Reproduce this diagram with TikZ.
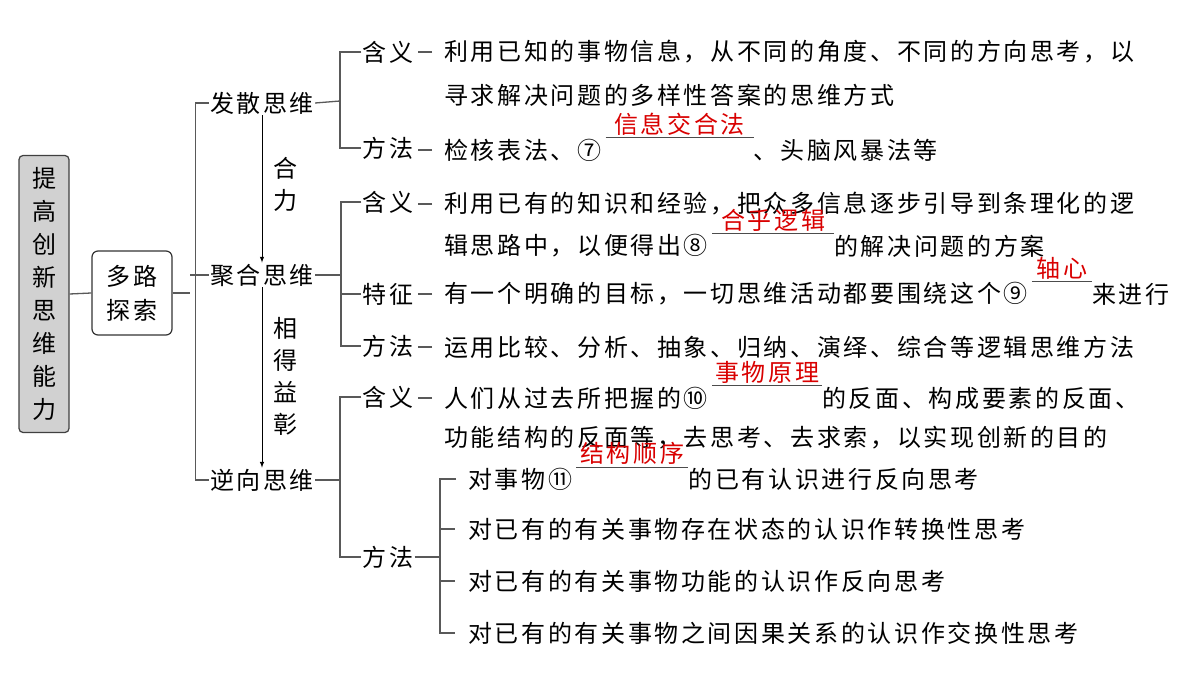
\documentclass[tikz,border=0pt]{standalone}
\usepackage{fontspec}
\setmainfont[LetterSpace=11]{Noto Sans CJK SC}
\usetikzlibrary{positioning}
\tikzset{
  txt/.style={inner sep=0pt,anchor=west,font=\fontsize{24}{28}\selectfont},
  key/.style={inner sep=1pt,font=\fontsize{24}{28}\selectfont},
  ans/.style={inner sep=0pt,text=red!85!black,font=\fontsize{24}{28}\selectfont},
  ln/.style={draw=black!65,line width=1.3pt},
  blank/.style={draw=black!70,line width=1pt},
}
\newcommand\fillin[5]{% start text, gap length, answer, rest node name, rest text
  \coordinate (#4s) at ([xshift=4pt,yshift=12pt]#1.east);
  \coordinate (#4e) at ([xshift=#2]#4s);
  \draw [blank] (#4s) -- (#4e);
  \node [ans,above=2pt] (#4a) at ($(#4s)!0.5!(#4e)$) {#3};
  \node [txt] (#4) at ([yshift=-12pt]#4e) {#5};}
\usetikzlibrary{calc}
\begin{document}
\begin{tikzpicture}[x=1pt,y=-1pt]
\useasboundingbox (0,0) rectangle (1200,676);
\fill[white] (0,0) rectangle (1200,676);
% root and second level
\node [draw=black!75,fill=black!18,rounded corners=4pt,line width=1.2pt,
  minimum width=50pt,minimum height=277pt,inner sep=0pt,
  font=\fontsize{24}{33}\selectfont,align=center] (root) at (44,294)
  {提\\高\\创\\新\\思\\维\\能\\力};
\node [draw=black!80,rounded corners=6pt,line width=1.2pt,minimum width=80pt,
  minimum height=84pt,font=\fontsize{24}{34}\selectfont,align=center] (dl) at (132,293) {多路\\探索};
\node [key] (fs) at (262,103) {发散思维};
\node [key] (jh) at (262,275) {聚合思维};
\node [key] (nx) at (262,480) {逆向思维};
\coordinate (b1) at (190,293);
\draw [ln] (root.east) -- (dl.west);
\draw [ln] (dl.east) -- (b1);
\draw [ln] (fs.west) -- ++(-13,0) |- (nx.west);
\draw [ln] (b1 |- jh.west) -- (jh.west);
% arrows between kinds
\draw [-latex,line width=1pt] (fs.south) -- (jh.north);
\draw [-latex,line width=1pt] (jh.south) -- (nx.north);
\node [key,align=center,font=\fontsize{24}{32}\selectfont] (hl) at (285,184) {合\\力};
\node [key,align=center,font=\fontsize{24}{32}\selectfont] (xd) at (285,376) {相\\得\\益\\彰};
% third level
\node [key] (fs1) at (388,52) {含义};
\node [key] (fs2) at (388,148) {方法};
\node [key] (jh1) at (388,202) {含义};
\node [key] (jh2) at (388,294) {特征};
\node [key] (jh3) at (388,346) {方法};
\node [key] (nx1) at (388,397) {含义};
\node [key] (nx2) at (388,557) {方法};
\coordinate (c1) at (340,101);
\coordinate (c2) at (341,275);
\coordinate (c3) at (340,480);
\draw [ln] (fs.east) -- (c1);
\draw [ln] (fs1.west) -- (fs1.west -| c1) -- (fs2.west -| c1) -- (fs2.west);
\draw [ln] (jh.east) -- (c2);
\draw [ln] (jh1.west) -- (jh1.west -| c2) -- (jh3.west -| c2) -- (jh3.west);
\draw [ln] (jh2.west -| c2) -- (jh2.west);
\draw [ln] (nx.east) -- (c3);
\draw [ln] (nx1.west) -- (nx1.west -| c3) -- (nx2.west -| c3) -- (nx2.west);
% texts
\node [txt] (t1) at (444,52) {利用已知的事物信息，从不同的角度、不同的方向思考，以};
\node [txt] (t2) at (444,95) {寻求解决问题的多样性答案的思维方式};
\node [txt] (t3) at (444,150) {检核表法、⑦};
\fillin{t3}{148pt}{信息交合法}{t3b}{、头脑风暴法等}
\node [txt] (t4) at (444,204) {利用已有的知识和经验，把众多信息逐步引导到条理化的逻};
\node [txt] (t5) at (444,246) {辑思路中，以便得出⑧};
\fillin{t5}{122pt}{合乎逻辑}{t5b}{的解决问题的方案}
\node [txt] (t6) at (444,294) {有一个明确的目标，一切思维活动都要围绕这个⑨};
\fillin{t6}{60pt}{轴心}{t6b}{来进行}
\node [txt] (t7) at (444,347) {运用比较、分析、抽象、归纳、演绎、综合等逻辑思维方法};
\node [txt] (t8) at (444,398) {人们从过去所把握的⑩};
\fillin{t8}{110pt}{事物原理}{t8b}{的反面、构成要素的反面、}
\node [txt] (t9) at (444,438) {功能结构的反面等，去思考、去求索，以实现创新的目的};
\foreach \k in {t1,t3,t4,t6,t7,t8}
  \draw [ln] (\k.west) ++(-12,0) -- ++(-14,0);
% methods of reverse thinking
\node [txt] (m1) at (468,479) {对事物⑪};
\fillin{m1}{112pt}{结构顺序}{m1b}{的已有认识进行反向思考}
\node [txt] (m2) at (468,529) {对已有的有关事物存在状态的认识作转换性思考};
\node [txt] (m3) at (468,581) {对已有的有关事物功能的认识作反向思考};
\node [txt] (m4) at (468,633) {对已有的有关事物之间因果关系的认识作交换性思考};
\coordinate (d) at (440,557);
\draw [ln] (nx2.east) -- (d);
\draw [ln] (m1.west) ++(-12,0) -| (m4.west -| d) -- ++(15,0);
\draw [ln] (m2.west -| d) -- ++(15,0);
\draw [ln] (m3.west -| d) -- ++(15,0);
\end{tikzpicture}
\end{document}
